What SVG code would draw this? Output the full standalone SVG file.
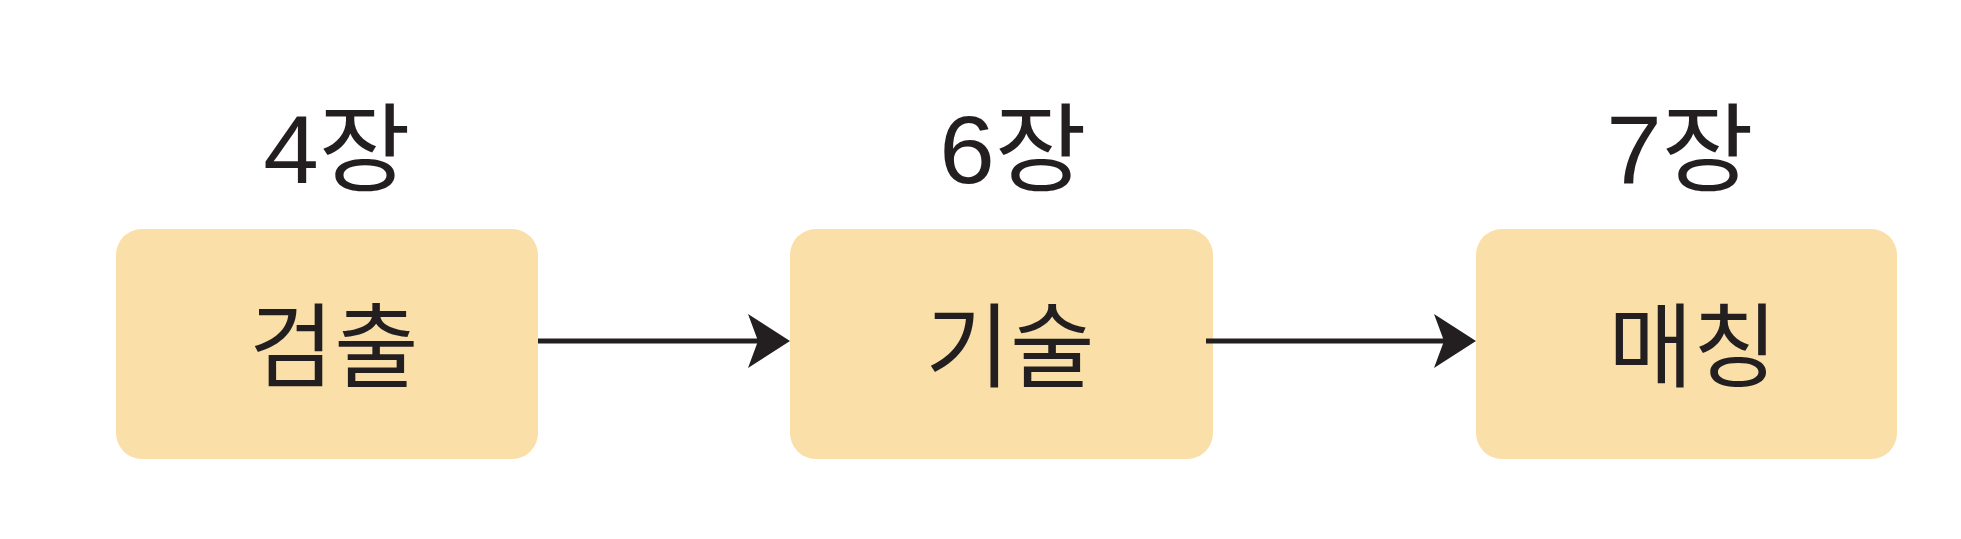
<svg xmlns="http://www.w3.org/2000/svg" width="1961" height="539" viewBox="0 0 1961 539">
<style>
.box{fill:#FBDFA8;}
.lbl{font-family:"Liberation Sans","Noto Sans CJK KR",sans-serif;font-size:96px;fill:#231F20;text-anchor:middle;}
.t{font-family:"Noto Sans CJK KR","Noto Sans",sans-serif;font-size:92px;fill:#231F20;text-anchor:middle;}
.edge{stroke:#231F20;stroke-width:5;fill:none;}
.head{fill:#231F20;}
</style>
<rect width="1961" height="539" fill="#ffffff"/>
<g id="node-detect">
<text class="lbl" transform="translate(337,183) scale(1.04,1)">4장</text>
<rect class="box" x="116" y="229" width="422" height="230" rx="26"/>
<text class="t" x="334" y="380">검출</text>
</g>
<g id="node-describe">
<text class="lbl" transform="translate(1013,183) scale(1.04,1)">6장</text>
<rect class="box" x="790" y="229" width="423" height="230" rx="26"/>
<text class="t" x="1010" y="380">기술</text>
</g>
<g id="node-match">
<text class="lbl" transform="translate(1680,183) scale(1.04,1)">7장</text>
<rect class="box" x="1476" y="229" width="421" height="230" rx="26"/>
<text class="t" x="1693" y="380">매칭</text>
</g>
<g id="connectors">
<line class="edge" x1="538" y1="341" x2="770" y2="341"/>
<path class="head" d="M790,341 L748,314 L758,341 L748,368 Z"/>
<line class="edge" x1="1206" y1="341" x2="1456" y2="341"/>
<path class="head" d="M1476,341 L1434,314 L1444,341 L1434,368 Z"/>
</g>
</svg>
